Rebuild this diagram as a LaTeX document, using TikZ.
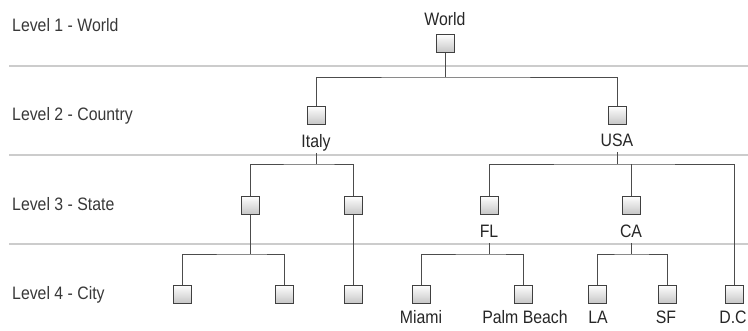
\documentclass[tikz,border=0pt]{standalone}
\usepackage{fontspec}
\setmainfont[FakeStretch=0.88]{Liberation Sans}
\usetikzlibrary{shadows}
\begin{document}
\begin{tikzpicture}[x=1pt,y=-1pt,
  box/.style={draw=black!75, line width=1pt, minimum size=18pt, inner sep=0pt,
    top color=white, bottom color=black!22,
    drop shadow={shadow xshift=1.2pt, shadow yshift=-1.2pt, fill=black!55, opacity=1}},
  conn/.style={draw=black!70, line width=0.9pt},
  sep/.style={draw=black!20, line width=1.8pt},
  lvl/.style={anchor=base west, inner sep=0pt, font=\fontsize{18}{20}\selectfont, text=black!78},
  lab/.style={anchor=base, inner sep=0pt, outer sep=2.5pt, text depth=3.5pt, font=\fontsize{18}{20}\selectfont, text=black!85}]
\useasboundingbox (0,0) rectangle (748,330);
% separators
\draw[sep] (9,66) -- (748,66);
\draw[sep] (9,155) -- (748,155);
\draw[sep] (9,244) -- (748,244);
% level labels
\node[lvl] (l1) at (12,31) {Level 1 - World};
\node[lvl] (l2) at (12,120) {Level 2 - Country};
\node[lvl] (l3) at (12,210) {Level 3 - State};
\node[lvl] (l4) at (12,299) {Level 4 - City};
% boxes
\node[box] (world) at (445,43) {};
\node[box] (italy) at (316,115) {};
\node[box] (usa) at (617,115) {};
\node[box] (it1) at (250,205) {};
\node[box] (it2) at (353,205) {};
\node[box] (fl) at (489,205) {};
\node[box] (ca) at (631,205) {};
\node[box] (c1) at (182,294) {};
\node[box] (c2) at (284,294) {};
\node[box] (c3) at (353,294) {};
\node[box] (miami) at (421,294) {};
\node[box] (palm) at (523,294) {};
\node[box] (la) at (597,294) {};
\node[box] (sf) at (667,294) {};
\node[box] (dc) at (734,294) {};
% labels
\node[lab] (worldlab) at (445,25) {World};
\node[lab] (italylab) at (316,147) {Italy};
\node[lab] (usalab) at (617,146) {USA};
\node[lab] (fllab) at (489,237) {FL};
\node[lab] (calab) at (631,237) {CA};
\node[lab] (miamilab) at (421,323) {Miami};
\node[lab] (palmlab) at (525,323) {Palm Beach};
\node[lab] (lalab) at (598,323) {LA};
\node[lab] (sflab) at (666,323) {SF};
\node[lab] (dclab) at (733,323) {D.C};
% junctions
\coordinate (j1) at (445,77);
\coordinate (j2) at (316,164);
\coordinate (j3) at (250,254);
\coordinate (j4) at (617,164);
\coordinate (j5) at (489,254);
\coordinate (j6) at (631,254);
% connectors
\draw[conn] (world.south) -- (j1);
\draw[conn] (italy.north) |- (j1) -| (usa.north);
\draw[conn] (italylab.south) -- (j2);
\draw[conn] (it1.north) |- (j2) -| (it2.north);
\draw[conn] (it1.south) -- (j3);
\draw[conn] (c1.north) |- (j3) -| (c2.north);
\draw[conn] (it2.south) -- (c3.north);
\draw[conn] (usalab.south) -- (j4);
\draw[conn] (fl.north) |- (j4) -| (dc.north);
\draw[conn] (ca.north) -- (ca.north |- j4);
\draw[conn] (fllab.south) -- (j5);
\draw[conn] (miami.north) |- (j5) -| (palm.north);
\draw[conn] (calab.south) -- (j6);
\draw[conn] (la.north) |- (j6) -| (sf.north);
\end{tikzpicture}
\end{document}
